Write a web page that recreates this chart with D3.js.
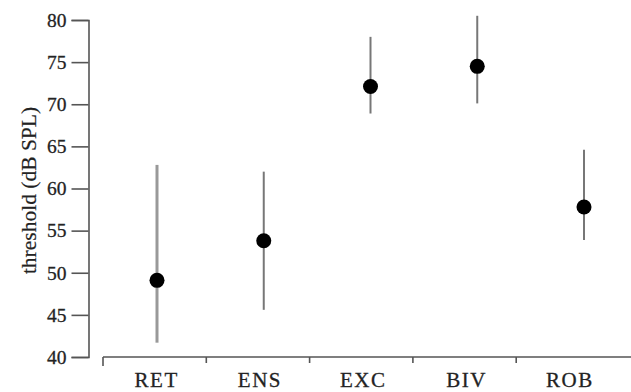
<!DOCTYPE html>
<html>
<head>
<meta charset="utf-8">
<script src="https://cdn.jsdelivr.net/npm/d3@7"></script>
<style>
  html, body { margin: 0; padding: 0; background: #fff; }
  svg { display: block; }
  text { font-family: "Liberation Serif", "Times New Roman", serif; fill: #222; }
</style>
</head>
<body>
<svg id="chart" width="631" height="392"></svg>
<script>
// Threshold per condition: mean with lower/upper range
const categories = ["RET", "ENS", "EXC", "BIV", "ROB"];
const means      = [49.1, 53.8, 72.1, 74.5, 57.8];
const lows       = [41.7, 45.6, 68.9, 70.1, 53.9];
const highs      = [62.8, 62.0, 78.0, 80.5, 64.6];
const yTicks     = [40, 45, 50, 55, 60, 65, 70, 75, 80];

const W = 631, H = 392;
const svg = d3.select("#chart");

const y = d3.scaleLinear().domain([40, 80]).range([357, 20]);

// category bands along the bottom axis
const xBand = d3.scaleBand().domain(categories).range([103, 619.5]).padding(0);
// marker positions
const xPt = d3.scalePoint().domain(categories).range([157, 584]);

const axisColor = "#555";
const textColor = "#2a2a2a";

// y axis
const yAxis = d3.axisLeft(y).tickValues(yTicks).tickSize(17).tickSizeOuter(17).tickPadding(5);
const gy = svg.append("g").attr("transform", "translate(88.5,0)").call(yAxis);
gy.select(".domain").attr("stroke", axisColor).attr("stroke-width", 1.6);
gy.selectAll(".tick line").attr("stroke", axisColor).attr("stroke-width", 1.6);
gy.selectAll(".tick text").attr("font-size", 19.5).attr("fill", textColor)
  .attr("stroke", textColor).attr("stroke-width", 0.3)
  .style("font-family", "'Liberation Serif', serif");

// x axis: baseline running off the right edge, ticks at band boundaries
const gx = svg.append("g");
gx.append("line")
  .attr("x1", xBand.range()[0]).attr("x2", W + 2)
  .attr("y1", 357).attr("y2", 357)
  .attr("stroke", axisColor).attr("stroke-width", 1.6);
gx.selectAll("line.bt").data(categories).join("line")
  .attr("class", "bt")
  .attr("x1", d => xBand(d)).attr("x2", d => xBand(d))
  .attr("y1", 357).attr("y2", (d, i) => i === 0 ? 366 : 363)
  .attr("stroke", axisColor).attr("stroke-width", 1.6);
gx.selectAll("text").data(categories).join("text")
  .attr("x", d => xBand(d) + xBand.bandwidth() / 2 + 2)
  .attr("y", 387)
  .attr("text-anchor", "middle")
  .attr("font-size", 21)
  .attr("letter-spacing", 1.5)
  .attr("fill", textColor)
  .attr("stroke", textColor).attr("stroke-width", 0.3)
  .text(d => d);

// y axis title
svg.append("text")
  .attr("transform", `translate(36,${y(60) + 2}) rotate(-90)`)
  .attr("text-anchor", "middle")
  .attr("font-size", 21.5)
  .attr("fill", textColor)
  .attr("stroke", textColor).attr("stroke-width", 0.2)
  .text("threshold (dB SPL)");

// range bars
svg.selectAll("line.range").data(categories).join("line")
  .attr("class", "range")
  .attr("x1", d => xPt(d)).attr("x2", d => xPt(d))
  .attr("y1", (d, i) => y(lows[i])).attr("y2", (d, i) => y(highs[i]))
  .attr("stroke", (d, i) => i === 0 ? "#999" : "#777")
  .attr("stroke-width", (d, i) => i === 0 ? 3 : 2);

// mean markers
svg.selectAll("circle.mean").data(categories).join("circle")
  .attr("class", "mean")
  .attr("cx", d => xPt(d))
  .attr("cy", (d, i) => y(means[i]))
  .attr("r", 7.5)
  .attr("fill", "#000");
</script>
</body>
</html>
